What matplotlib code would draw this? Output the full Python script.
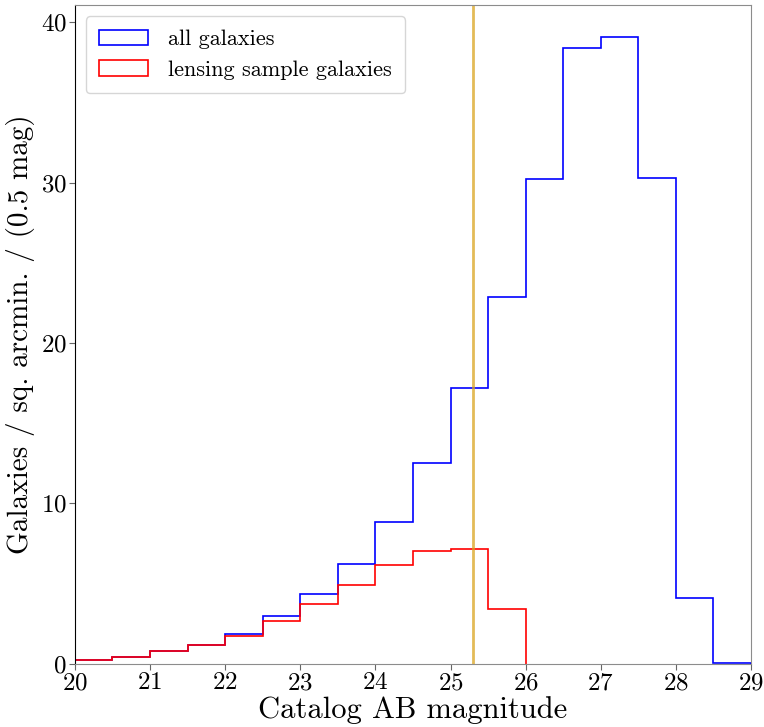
import numpy as np
import matplotlib
matplotlib.use("Agg")
import matplotlib.pyplot as plt

plt.rcParams['font.family'] = 'serif'
plt.rcParams['font.serif'] = ['cmr10']
plt.rcParams['mathtext.fontset'] = 'cm'
plt.rcParams['axes.unicode_minus'] = False
plt.rcParams['axes.formatter.use_mathtext'] = True

# bin edges (0.5 mag bins)
all_edges = np.arange(20.0, 29.01, 0.5)
lens_edges = np.arange(20.0, 26.01, 0.5)

# galaxies per sq. arcmin per bin
all_counts = [0.25, 0.45, 0.8, 1.2, 1.83, 2.95, 4.32, 6.2, 8.86, 12.5,
              17.17, 22.85, 30.2, 38.4, 39.1, 30.25, 4.1, 0.05]
lens_counts = [0.25, 0.45, 0.8, 1.2, 1.75, 2.64, 3.7, 4.93, 6.13, 7.05,
               7.13, 3.41]

mag_cut = 25.3

fig = plt.figure(figsize=(7.64, 7.27), dpi=100)
ax = fig.add_axes([0.098, 0.087, 0.885, 0.906])

all_centers = 0.5 * (all_edges[:-1] + all_edges[1:])
lens_centers = 0.5 * (lens_edges[:-1] + lens_edges[1:])
ax.hist(all_centers, bins=all_edges, weights=all_counts, histtype='step',
        color='blue', lw=1.2, label='all galaxies')
ax.hist(lens_centers, bins=lens_edges, weights=lens_counts, histtype='step',
        color='red', lw=1.2, label='lensing sample galaxies')
ax.axvline(mag_cut, color='goldenrod', alpha=0.75, lw=2)

ax.set_xlim(20, 29)
ax.set_ylim(0, 41.06)
ax.set_xticks(range(20, 30))
ax.set_yticks([0, 10, 20, 30, 40])
ax.tick_params(labelsize=18, color='0.4', length=4, pad=2)
for side in ['top', 'right', 'bottom']:
    ax.spines[side].set_color('0.55')
ax.spines['left'].set_color('black')

ax.set_xlabel('Catalog AB magnitude', fontsize=22, labelpad=1)
ax.set_ylabel('Galaxies / sq. arcmin. / (0.5 mag)', fontsize=21, labelpad=4)
ax.legend(loc='upper left', fontsize=16, handlelength=2.2, borderpad=0.6,
          labelspacing=0.5, handletextpad=0.9, framealpha=0.8)

plt.savefig("out.png", dpi=100)
